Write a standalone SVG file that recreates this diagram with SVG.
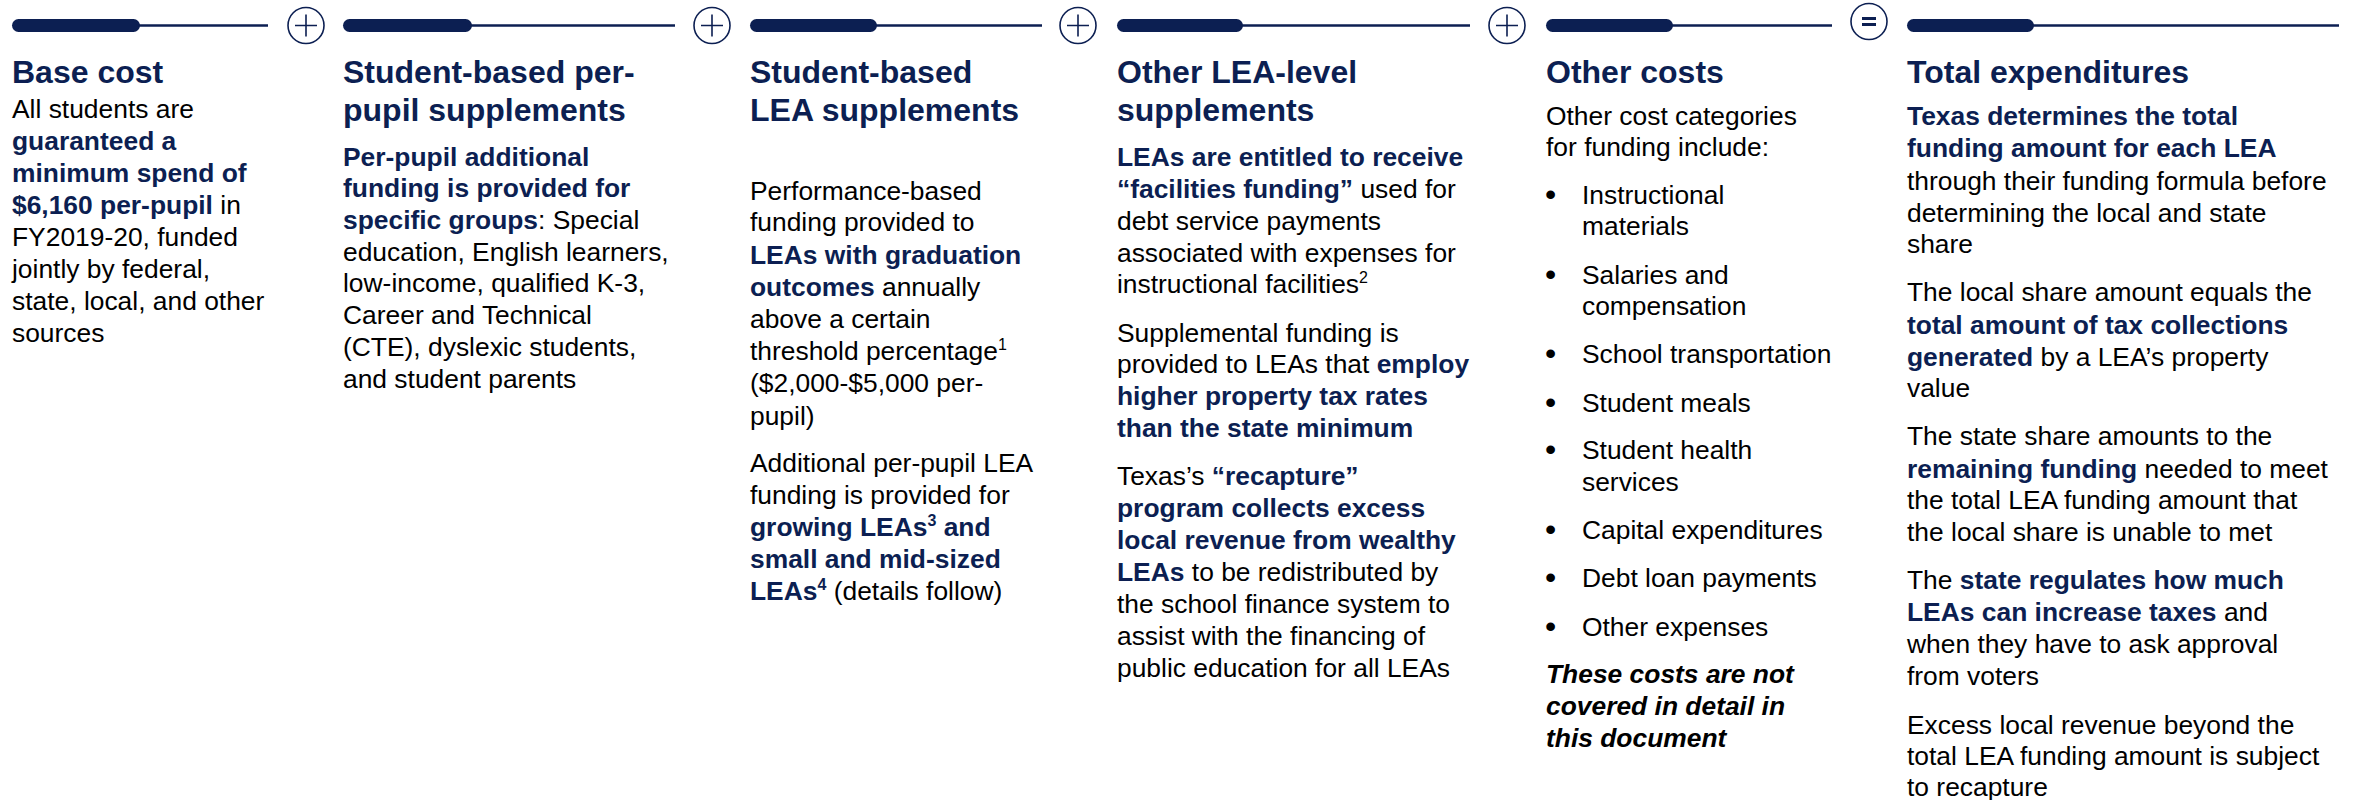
<svg xmlns="http://www.w3.org/2000/svg" width="2354" height="800" viewBox="0 0 2354 800">
<style>
.t{font-family:"Liberation Sans",Arial,sans-serif;font-weight:bold;font-size:32px;fill:#0C1F52}
.b{font-family:"Liberation Sans",Arial,sans-serif;font-size:26.4px;fill:#000}
.k{font-weight:bold;fill:#0C1F52}
.i{font-weight:bold;font-style:italic;fill:#000}
.s{font-size:16px}
.u{font-size:32px}
.bar{fill:#0C1F52}
.ln{stroke:#0C1F52;stroke-width:2.5}
.op{fill:#fff;stroke:#0C1F52;stroke-width:1.6}
.pl{stroke:#0C1F52;stroke-width:1.6}
.eq{stroke:#0C1F52;stroke-width:3.2}
</style>
<rect width="2354" height="800" fill="#fff"/>

<g id="base-cost">
<rect class="bar" x="12" y="19" width="128" height="13" rx="6.5"/>
<line class="ln" x1="136" y1="25.5" x2="268" y2="25.5"/>
<text class="t" x="12" y="83">Base cost</text>
<text class="b" x="12" y="118">All students are</text>
<text class="b" x="12" y="150"><tspan class="k">guaranteed a</tspan></text>
<text class="b" x="12" y="182"><tspan class="k">minimum spend of</tspan></text>
<text class="b" x="12" y="214"><tspan class="k">$6,160 per-pupil</tspan> in</text>
<text class="b" x="12" y="246">FY2019-20, funded</text>
<text class="b" x="12" y="278">jointly by federal,</text>
<text class="b" x="12" y="310">state, local, and other</text>
<text class="b" x="12" y="342">sources</text>
</g>

<g id="per-pupil-supplements">
<rect class="bar" x="343" y="19" width="129" height="13" rx="6.5"/>
<line class="ln" x1="468" y1="25.5" x2="675" y2="25.5"/>
<text class="t" x="343" y="83">Student-based per-</text>
<text class="t" x="343" y="121">pupil supplements</text>
<text class="b" x="343" y="166"><tspan class="k">Per-pupil additional</tspan></text>
<text class="b" x="343" y="197"><tspan class="k">funding is provided for</tspan></text>
<text class="b" x="343" y="229"><tspan class="k">specific groups</tspan>: Special</text>
<text class="b" x="343" y="261">education, English learners,</text>
<text class="b" x="343" y="292">low-income, qualified K-3,</text>
<text class="b" x="343" y="324">Career and Technical</text>
<text class="b" x="343" y="356">(CTE), dyslexic students,</text>
<text class="b" x="343" y="388">and student parents</text>
</g>

<g id="lea-supplements">
<rect class="bar" x="750" y="19" width="127" height="13" rx="6.5"/>
<line class="ln" x1="873" y1="25.5" x2="1042" y2="25.5"/>
<text class="t" x="750" y="83">Student-based</text>
<text class="t" x="750" y="121">LEA supplements</text>
<text class="b" x="750" y="200">Performance-based</text>
<text class="b" x="750" y="231">funding provided to</text>
<text class="b" x="750" y="264"><tspan class="k">LEAs with graduation</tspan></text>
<text class="b" x="750" y="296"><tspan class="k">outcomes</tspan> annually</text>
<text class="b" x="750" y="328">above a certain</text>
<text class="b" x="750" y="360">threshold percentage<tspan class="s" dy="-10">1</tspan></text>
<text class="b" x="750" y="392">($2,000-$5,000 per-</text>
<text class="b" x="750" y="425">pupil)</text>
<text class="b" x="750" y="472">Additional per-pupil LEA</text>
<text class="b" x="750" y="504">funding is provided for</text>
<text class="b" x="750" y="536"><tspan class="k">growing LEAs</tspan><tspan class="k s" dy="-10">3</tspan><tspan class="k" dy="10"> and</tspan></text>
<text class="b" x="750" y="568"><tspan class="k">small and mid-sized</tspan></text>
<text class="b" x="750" y="600"><tspan class="k">LEAs</tspan><tspan class="k s" dy="-10">4</tspan><tspan dy="10"> (details follow)</tspan></text>
</g>

<g id="other-lea-supplements">
<rect class="bar" x="1117" y="19" width="126" height="13" rx="6.5"/>
<line class="ln" x1="1239" y1="25.5" x2="1470" y2="25.5"/>
<text class="t" x="1117" y="83">Other LEA-level</text>
<text class="t" x="1117" y="121">supplements</text>
<text class="b" x="1117" y="166"><tspan class="k">LEAs are entitled to receive</tspan></text>
<text class="b" x="1117" y="198"><tspan class="k">“facilities funding”</tspan> used for</text>
<text class="b" x="1117" y="230">debt service payments</text>
<text class="b" x="1117" y="262">associated with expenses for</text>
<text class="b" x="1117" y="293">instructional facilities<tspan class="s" dy="-10">2</tspan></text>
<text class="b" x="1117" y="342">Supplemental funding is</text>
<text class="b" x="1117" y="373">provided to LEAs that <tspan class="k">employ</tspan></text>
<text class="b" x="1117" y="405"><tspan class="k">higher property tax rates</tspan></text>
<text class="b" x="1117" y="437"><tspan class="k">than the state minimum</tspan></text>
<text class="b" x="1117" y="485">Texas’s <tspan class="k">“recapture”</tspan></text>
<text class="b" x="1117" y="517"><tspan class="k">program collects excess</tspan></text>
<text class="b" x="1117" y="549"><tspan class="k">local revenue from wealthy</tspan></text>
<text class="b" x="1117" y="581"><tspan class="k">LEAs</tspan> to be redistributed by</text>
<text class="b" x="1117" y="613">the school finance system to</text>
<text class="b" x="1117" y="645">assist with the financing of</text>
<text class="b" x="1117" y="677">public education for all LEAs</text>
</g>

<g id="other-costs">
<rect class="bar" x="1546" y="19" width="127" height="13" rx="6.5"/>
<line class="ln" x1="1669" y1="25.5" x2="1832" y2="25.5"/>
<text class="t" x="1546" y="83">Other costs</text>
<text class="b" x="1546" y="125">Other cost categories</text>
<text class="b" x="1546" y="156">for funding include:</text>
<g class="b">
<text class="u" x="1545" y="205">•</text><text x="1582" y="204">Instructional</text>
<text x="1582" y="235">materials</text>
<text class="u" x="1545" y="285">•</text><text x="1582" y="284">Salaries and</text>
<text x="1582" y="315">compensation</text>
<text class="u" x="1545" y="364">•</text><text x="1582" y="363">School transportation</text>
<text class="u" x="1545" y="413">•</text><text x="1582" y="412">Student meals</text>
<text class="u" x="1545" y="460">•</text><text x="1582" y="459">Student health</text>
<text x="1582" y="491">services</text>
<text class="u" x="1545" y="540">•</text><text x="1582" y="539">Capital expenditures</text>
<text class="u" x="1545" y="588">•</text><text x="1582" y="587">Debt loan payments</text>
<text class="u" x="1545" y="637">•</text><text x="1582" y="636">Other expenses</text>
</g>
<text class="b" x="1546" y="683"><tspan class="i">These costs are not</tspan></text>
<text class="b" x="1546" y="715"><tspan class="i">covered in detail in</tspan></text>
<text class="b" x="1546" y="747"><tspan class="i">this document</tspan></text>
</g>

<g id="total-expenditures">
<rect class="bar" x="1907" y="19" width="127" height="13" rx="6.5"/>
<line class="ln" x1="2030" y1="25.5" x2="2339" y2="25.5"/>
<text class="t" x="1907" y="83">Total expenditures</text>
<text class="b" x="1907" y="125"><tspan class="k">Texas determines the total</tspan></text>
<text class="b" x="1907" y="157"><tspan class="k">funding amount for each LEA</tspan></text>
<text class="b" x="1907" y="190">through their funding formula before</text>
<text class="b" x="1907" y="222">determining the local and state</text>
<text class="b" x="1907" y="253">share</text>
<text class="b" x="1907" y="301">The local share amount equals the</text>
<text class="b" x="1907" y="334"><tspan class="k">total amount of tax collections</tspan></text>
<text class="b" x="1907" y="366"><tspan class="k">generated</tspan> by a LEA’s property</text>
<text class="b" x="1907" y="397">value</text>
<text class="b" x="1907" y="445">The state share amounts to the</text>
<text class="b" x="1907" y="478"><tspan class="k">remaining funding</tspan> needed to meet</text>
<text class="b" x="1907" y="509">the total LEA funding amount that</text>
<text class="b" x="1907" y="541">the local share is unable to met</text>
<text class="b" x="1907" y="589">The <tspan class="k">state regulates how much</tspan></text>
<text class="b" x="1907" y="621"><tspan class="k">LEAs can increase taxes</tspan> and</text>
<text class="b" x="1907" y="653">when they have to ask approval</text>
<text class="b" x="1907" y="685">from voters</text>
<text class="b" x="1907" y="734">Excess local revenue beyond the</text>
<text class="b" x="1907" y="765">total LEA funding amount is subject</text>
<text class="b" x="1907" y="796">to recapture</text>
</g>

<g id="connectors">
<g id="plus-1"><circle class="op" cx="306" cy="25.5" r="18"/><path class="pl" d="M295 25.5H317M306 14.5V36.5"/></g>
<g id="plus-2"><circle class="op" cx="712" cy="25.5" r="18"/><path class="pl" d="M701 25.5H723M712 14.5V36.5"/></g>
<g id="plus-3"><circle class="op" cx="1078" cy="25.5" r="18"/><path class="pl" d="M1067 25.5H1089M1078 14.5V36.5"/></g>
<g id="plus-4"><circle class="op" cx="1507" cy="25.5" r="18"/><path class="pl" d="M1496 25.5H1518M1507 14.5V36.5"/></g>
<g id="equals"><circle class="op" cx="1869" cy="21.5" r="18"/><path class="eq" d="M1862 18.5H1876M1862 24.5H1876"/></g>
</g>
</svg>
